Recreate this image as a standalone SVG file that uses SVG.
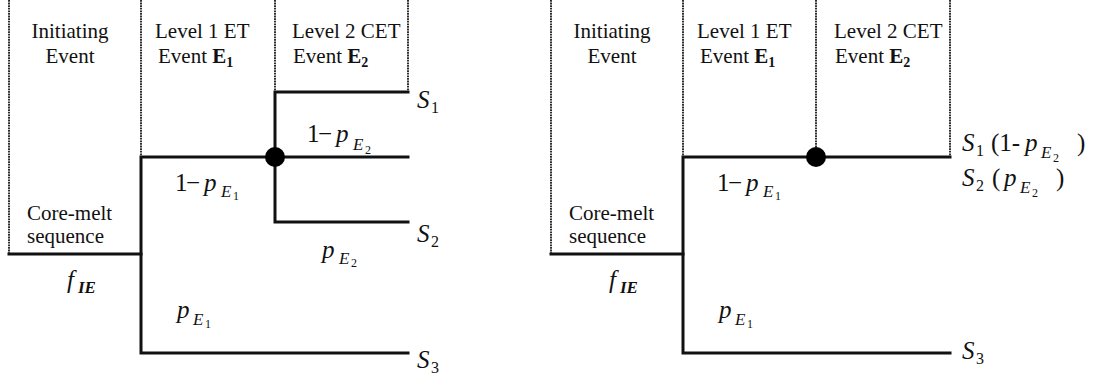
<svg xmlns="http://www.w3.org/2000/svg" width="1096" height="374" viewBox="0 0 1096 374">
<style>
.bg{fill:#fff}
.dot{stroke:#1a1a1a;stroke-width:1.8;stroke-dasharray:1.8 0.8;fill:none}
.br{stroke:#111;stroke-width:3;fill:none;stroke-linecap:square}
.hd{font-family:"Liberation Serif","Times New Roman",serif;font-size:21px;fill:#111}
.b{font-weight:bold}
.bs{font-weight:bold;font-size:14px}
.m{font-family:"Liberation Serif","Times New Roman",serif;font-size:25px;fill:#111}
.i{font-style:italic}
.s{font-style:italic;font-size:17px}
.su{font-size:16px}
.ss{font-size:12px}
.nd{fill:#000}
</style>
<rect class="bg" x="0" y="0" width="1096" height="374"/>

<!-- LEFT TREE -->
<g id="left-columns">
<line class="dot" x1="9" y1="0" x2="9" y2="254"/>
<line class="dot" x1="141" y1="0" x2="141" y2="157"/>
<line class="dot" x1="275" y1="0" x2="275" y2="92"/>
<line class="dot" x1="408" y1="0" x2="408" y2="92"/>
</g>
<g id="left-header-ie"><text class="hd" x="70" y="38" text-anchor="middle">Initiating</text><text class="hd" x="70" y="63" text-anchor="middle">Event</text></g>
<g id="left-header-e1"><text class="hd" x="155" y="38">Level 1 ET</text><text class="hd" x="158" y="63">Event <tspan class="b">E</tspan><tspan class="bs" dy="4">1</tspan></text></g>
<g id="left-header-e2"><text class="hd" x="292" y="38">Level 2 CET</text><text class="hd" x="293" y="63">Event <tspan class="b">E</tspan><tspan class="bs" dy="4">2</tspan></text></g>
<g id="left-initiator"><text class="hd" x="27" y="220">Core-melt</text><text class="hd" x="27" y="243">sequence</text></g>

<g id="left-connectors">
<polyline class="br" points="9,254 141,254"/>
<polyline class="br" points="408,157 141,157 141,353 408,353"/>
<polyline class="br" points="408,92 275,92 275,222 408,222"/>
</g>
<g id="left-node-e2"><circle class="nd" cx="275" cy="157" r="10"/></g>

<g id="left-labels">
<text class="m"><tspan x="307" y="142">1</tspan><tspan x="318" y="142">−</tspan><tspan class="i" x="336" y="142">p</tspan><tspan class="s" x="353" y="150">E</tspan><tspan class="ss" x="365" y="154">2</tspan></text>
<text class="m"><tspan x="175" y="191">1</tspan><tspan x="186" y="191">−</tspan><tspan class="i" x="204" y="191">p</tspan><tspan class="s" x="221" y="197">E</tspan><tspan class="ss" x="233" y="200">1</tspan></text>
<text class="m"><tspan class="i" x="322" y="258">p</tspan><tspan class="s" x="339" y="264">E</tspan><tspan class="ss" x="351" y="267">2</tspan></text>
<text class="m"><tspan class="i" x="177" y="318">p</tspan><tspan class="s" x="193" y="325">E</tspan><tspan class="ss" x="205" y="328">1</tspan></text>
<text class="m"><tspan class="i" x="67" y="288">f</tspan><tspan class="s b" x="78" y="293">IE</tspan></text>
</g>
<g id="left-end-s1"><text class="m"><tspan class="i" x="417" y="108">S</tspan><tspan class="su" x="431" y="113">1</tspan></text></g>
<g id="left-end-s2"><text class="m"><tspan class="i" x="417" y="242">S</tspan><tspan class="su" x="431" y="247">2</tspan></text></g>
<g id="left-end-s3"><text class="m"><tspan class="i" x="417" y="368">S</tspan><tspan class="su" x="431" y="373">3</tspan></text></g>

<!-- RIGHT TREE -->
<g id="right-columns">
<line class="dot" x1="551" y1="0" x2="551" y2="254"/>
<line class="dot" x1="683" y1="0" x2="683" y2="157"/>
<line class="dot" x1="816" y1="0" x2="816" y2="157"/>
<line class="dot" x1="950" y1="0" x2="950" y2="157"/>
</g>
<g id="right-header-ie"><text class="hd" x="612" y="38" text-anchor="middle">Initiating</text><text class="hd" x="612" y="63" text-anchor="middle">Event</text></g>
<g id="right-header-e1"><text class="hd" x="697" y="38">Level 1 ET</text><text class="hd" x="700" y="63">Event <tspan class="b">E</tspan><tspan class="bs" dy="4">1</tspan></text></g>
<g id="right-header-e2"><text class="hd" x="834" y="38">Level 2 CET</text><text class="hd" x="835" y="63">Event <tspan class="b">E</tspan><tspan class="bs" dy="4">2</tspan></text></g>
<g id="right-initiator"><text class="hd" x="569" y="220">Core-melt</text><text class="hd" x="569" y="243">sequence</text></g>

<g id="right-connectors">
<polyline class="br" points="551,254 683,254"/>
<polyline class="br" points="950,157 683,157 683,353 950,353"/>
</g>
<g id="right-node-e2"><circle class="nd" cx="816" cy="157" r="10"/></g>

<g id="right-labels">
<text class="m"><tspan x="717" y="191">1</tspan><tspan x="728" y="191">−</tspan><tspan class="i" x="746" y="191">p</tspan><tspan class="s" x="763" y="197">E</tspan><tspan class="ss" x="775" y="200">1</tspan></text>
<text class="m"><tspan class="i" x="719" y="318">p</tspan><tspan class="s" x="735" y="325">E</tspan><tspan class="ss" x="747" y="328">1</tspan></text>
<text class="m"><tspan class="i" x="609" y="288">f</tspan><tspan class="s b" x="620" y="293">IE</tspan></text>
</g>
<g id="right-end-s1"><text class="m"><tspan class="i" x="962" y="151">S</tspan><tspan class="su" x="976" y="156">1</tspan><tspan x="991" y="151">(1-</tspan><tspan class="i" x="1025" y="151">p</tspan><tspan class="s" x="1041" y="158">E</tspan><tspan class="ss" x="1053" y="162">2</tspan><tspan x="1077" y="151">)</tspan></text></g>
<g id="right-end-s2"><text class="m"><tspan class="i" x="962" y="186">S</tspan><tspan class="su" x="976" y="191">2</tspan><tspan x="992" y="186">(</tspan><tspan class="i" x="1004" y="186">p</tspan><tspan class="s" x="1020" y="193">E</tspan><tspan class="ss" x="1032" y="197">2</tspan><tspan x="1056" y="186">)</tspan></text></g>
<g id="right-end-s3"><text class="m"><tspan class="i" x="962" y="359">S</tspan><tspan class="su" x="976" y="364">3</tspan></text></g>
</svg>
